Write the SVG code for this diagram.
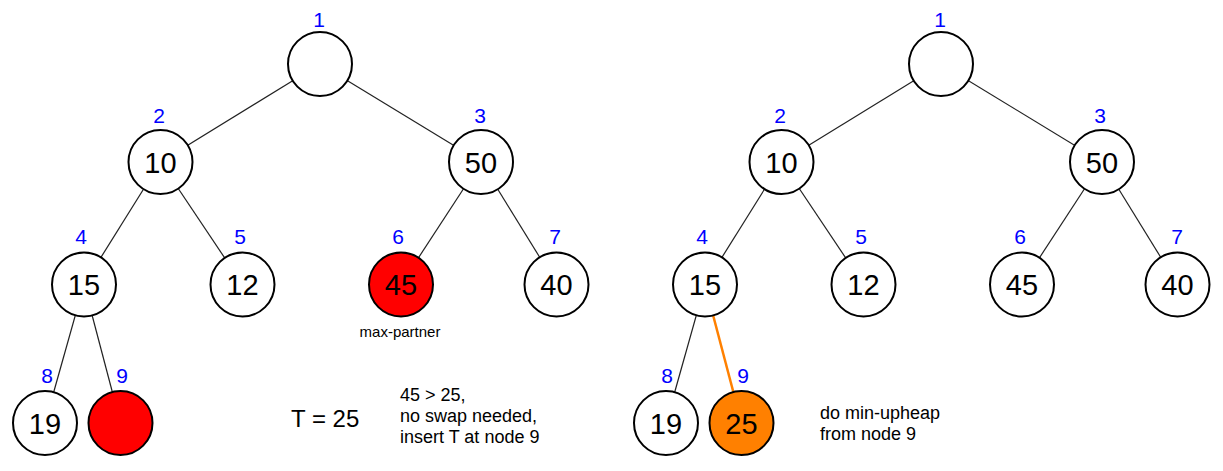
<svg xmlns="http://www.w3.org/2000/svg" width="1223" height="471" viewBox="0 0 1223 471">
<style>
.n{fill:#fff;stroke:#000;stroke-width:2}
.red{fill:#ff0000}
.org{fill:#ff8000}
.v{font-family:"Liberation Sans",Arial,sans-serif;font-size:29px;fill:#000;text-anchor:middle}
.i{font-family:"Liberation Sans",Arial,sans-serif;font-size:21px;fill:#0000ff;text-anchor:middle}
.e{stroke:#222;stroke-width:1.2;fill:none}
.eo{stroke:#ff8000;stroke-width:2.5;fill:none}
.t{font-family:"Liberation Sans",Arial,sans-serif;font-size:18px;fill:#000}
</style>
<rect width="1223" height="471" fill="#fff"/>
<g id="connectors">
<line class="e" x1="320" y1="64" x2="160.5" y2="162"/>
<line class="e" x1="320" y1="64" x2="481" y2="162"/>
<line class="e" x1="160.5" y1="162" x2="84" y2="284.5"/>
<line class="e" x1="160.5" y1="162" x2="242.5" y2="284.5"/>
<line class="e" x1="481" y1="162" x2="401" y2="284.5"/>
<line class="e" x1="481" y1="162" x2="556.5" y2="284.5"/>
<line class="e" x1="84" y1="284.5" x2="45" y2="423"/>
<line class="e" x1="84" y1="284.5" x2="120.5" y2="423"/>
<line class="e" x1="941" y1="64" x2="781.5" y2="162"/>
<line class="e" x1="941" y1="64" x2="1102" y2="162"/>
<line class="e" x1="781.5" y1="162" x2="705" y2="284.5"/>
<line class="e" x1="781.5" y1="162" x2="863.5" y2="284.5"/>
<line class="e" x1="1102" y1="162" x2="1022" y2="284.5"/>
<line class="e" x1="1102" y1="162" x2="1177.5" y2="284.5"/>
<line class="e" x1="705" y1="284.5" x2="666" y2="423"/>
<line class="eo" x1="705" y1="284.5" x2="741.5" y2="423"/>
</g>
<g id="L1"><circle class="n" cx="320" cy="64" r="32"/><text class="i" x="319" y="27">1</text></g>
<g id="L2"><circle class="n" cx="160.5" cy="162" r="32"/><text class="v" x="160.5" y="172.5">10</text><text class="i" x="159" y="123">2</text></g>
<g id="L3"><circle class="n" cx="481" cy="162" r="32"/><text class="v" x="481" y="172.5">50</text><text class="i" x="480" y="123">3</text></g>
<g id="L4"><circle class="n" cx="84" cy="284.5" r="32"/><text class="v" x="84" y="295">15</text><text class="i" x="81" y="244">4</text></g>
<g id="L5"><circle class="n" cx="242.5" cy="284.5" r="32"/><text class="v" x="242.5" y="295">12</text><text class="i" x="240" y="244">5</text></g>
<g id="L6"><circle class="n red" cx="401" cy="284.5" r="32"/><text class="v" x="401" y="295">45</text><text class="i" x="398" y="244">6</text><text class="t" x="400" y="337" text-anchor="middle" style="font-size:15px">max-partner</text></g>
<g id="L7"><circle class="n" cx="556.5" cy="284.5" r="32"/><text class="v" x="556.5" y="295">40</text><text class="i" x="555" y="244">7</text></g>
<g id="L8"><circle class="n" cx="45" cy="423" r="32"/><text class="v" x="45" y="433.5">19</text><text class="i" x="47" y="383">8</text></g>
<g id="L9"><circle class="n red" cx="120.5" cy="423" r="32"/><text class="i" x="122" y="383">9</text></g>
<g id="R1"><circle class="n" cx="941" cy="64" r="32"/><text class="i" x="940" y="27">1</text></g>
<g id="R2"><circle class="n" cx="781.5" cy="162" r="32"/><text class="v" x="781.5" y="172.5">10</text><text class="i" x="780" y="123">2</text></g>
<g id="R3"><circle class="n" cx="1102" cy="162" r="32"/><text class="v" x="1102" y="172.5">50</text><text class="i" x="1100" y="123">3</text></g>
<g id="R4"><circle class="n" cx="705" cy="284.5" r="32"/><text class="v" x="705" y="295">15</text><text class="i" x="702" y="244">4</text></g>
<g id="R5"><circle class="n" cx="863.5" cy="284.5" r="32"/><text class="v" x="863.5" y="295">12</text><text class="i" x="861" y="244">5</text></g>
<g id="R6"><circle class="n" cx="1022" cy="284.5" r="32"/><text class="v" x="1022" y="295">45</text><text class="i" x="1020" y="244">6</text></g>
<g id="R7"><circle class="n" cx="1177.5" cy="284.5" r="32"/><text class="v" x="1177.5" y="295">40</text><text class="i" x="1177" y="244">7</text></g>
<g id="R8"><circle class="n" cx="666" cy="423" r="32"/><text class="v" x="666" y="433.5">19</text><text class="i" x="667" y="383">8</text></g>
<g id="R9"><circle class="n org" cx="741.5" cy="423" r="32"/><text class="v" x="741.5" y="433.5">25</text><text class="i" x="743" y="383">9</text></g>
<g id="notes">
<text class="t" x="291" y="427" style="font-size:24px">T = 25</text>
<text class="t" x="400" y="401">45 &gt; 25,</text>
<text class="t" x="400" y="422">no swap needed,</text>
<text class="t" x="400" y="443">insert T at node 9</text>
<text class="t" x="820" y="419">do min-upheap</text>
<text class="t" x="820" y="440">from node 9</text>
</g>
</svg>
